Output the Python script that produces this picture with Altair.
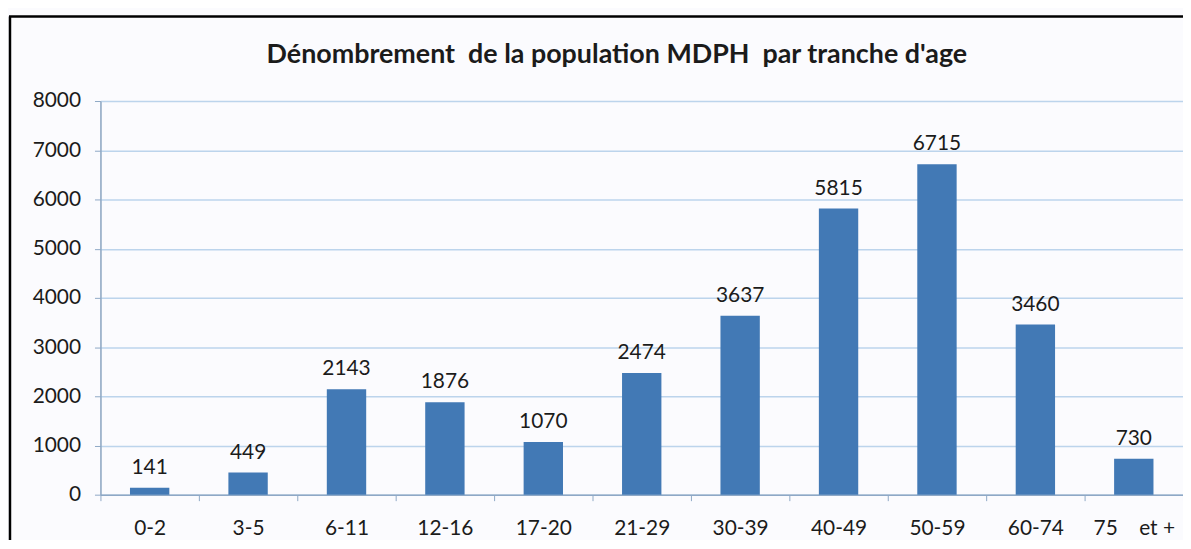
import altair as alt
import pandas as pd

categories = ["0-2", "3-5", "6-11", "12-16", "17-20", "21-29", "30-39", "40-49", "50-59", "60-74", "75\u00a0\u00a0\u00a0\u00a0et +"]
values = [141, 449, 2143, 1876, 1070, 2474, 3637, 5815, 6715, 3460, 730]
y_ticks = [0, 1000, 2000, 3000, 4000, 5000, 6000, 7000, 8000]
title_text = "Dénombrement\u00a0 de la population MDPH\u00a0 par tranche d'age"

df = pd.DataFrame({"cat": categories, "val": values})
title_df = pd.DataFrame({"t": [title_text]})

W, H = 1089, 396
FONT = "Lato"
AXIS_COL = "#8ea8c6"
GRID_COL = "#bcd4ec"
TXT = "#1b1b1b"
FS = 21

x_enc = alt.X("cat:N", sort=categories, title=None,
              scale=alt.Scale(paddingInner=0, paddingOuter=0),
              axis=alt.Axis(labelAngle=0, labelFontSize=FS, labelFont=FONT, labelColor=TXT,
                            labelPadding=17, tickBand="extent", tickSize=6,
                            tickColor=AXIS_COL, domainColor=AXIS_COL, domainWidth=1.5,
                            grid=False))
y_enc = alt.Y("val:Q", title=None,
              scale=alt.Scale(domain=[0, 8000], nice=False),
              axis=alt.Axis(values=y_ticks, format="d", labelFontSize=FS, labelFont=FONT,
                            labelColor=TXT, labelPadding=14, tickSize=6, tickColor=AXIS_COL,
                            domainColor=AXIS_COL, domainWidth=1.5,
                            gridColor=GRID_COL, gridWidth=1.5))

bars = alt.Chart(df).mark_bar(color="#4279b5", width=alt.RelativeBandSize(0.4)).encode(x=x_enc, y=y_enc)
labels = alt.Chart(df).mark_text(baseline="bottom", dy=-10, fontSize=FS, font=FONT, color=TXT).encode(
    x=alt.X("cat:N", sort=categories), y="val:Q", text="val:Q")

title_mark = alt.Chart(title_df).mark_text(
    font=FONT, fontSize=27, fontWeight="bold", color=TXT, align="center", baseline="alphabetic"
).encode(x=alt.value(W / 2 - 25), y=alt.value(-38), text="t:N")

frame_v = alt.Chart(title_df).mark_rule(color="black", strokeWidth=2.5).encode(
    x=alt.value(-91), y=alt.value(-85), y2=alt.value(H + 60))
frame_h = alt.Chart(title_df).mark_rule(color="black", strokeWidth=2.5).encode(
    x=alt.value(-92), x2=alt.value(W + 10), y=alt.value(-85))

chart = alt.layer(bars, labels, title_mark, frame_v, frame_h).properties(
    width=W, height=H,
    autosize=alt.AutoSizeParams(type="none"),
    padding={"left": 93, "top": 92, "right": 0, "bottom": 44},
).configure_view(stroke=None).configure(background="#fbfbfe")

chart.save("out.html", embed_options={"renderer": "svg", "actions": False})
